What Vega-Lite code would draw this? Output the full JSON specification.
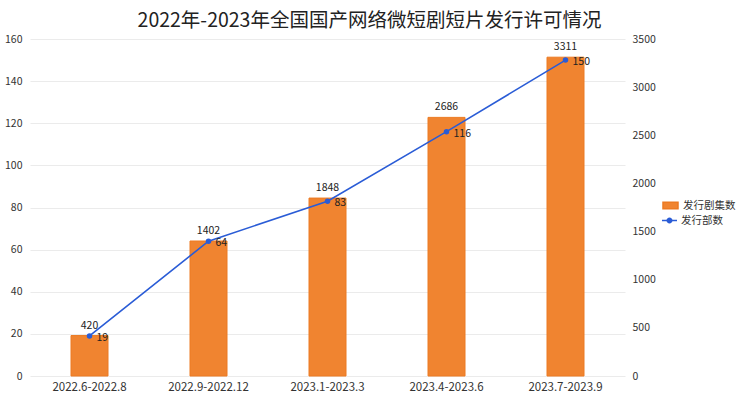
{
  "$schema": "https://vega.github.io/schema/vega-lite/v6.json",
  "width": 595,
  "height": 337,
  "autosize": {"type": "none"},
  "padding": {"left": 30, "top": 39, "right": 115, "bottom": 26},
  "background": "white",
  "title": {
    "text": "2022年-2023年全国国产网络微短剧短片发行许可情况",
    "font": "Noto Sans CJK SC",
    "fontSize": 19.5,
    "fontWeight": "normal",
    "color": "#222222",
    "anchor": "middle",
    "dx": 42,
    "offset": 3
  },
  "config": {
    "font": "Noto Sans CJK SC",
    "view": {"stroke": null},
    "axis": {"labelFont": "Noto Sans CJK SC", "labelColor": "#333333"},
    "legend": {"labelFont": "Noto Sans CJK SC", "labelColor": "#333333"}
  },
  "data": {
    "values": [
      {"period": "2022.6-2022.8", "episodes": 420, "titles": 19},
      {"period": "2022.9-2022.12", "episodes": 1402, "titles": 64},
      {"period": "2023.1-2023.3", "episodes": 1848, "titles": 83},
      {"period": "2023.4-2023.6", "episodes": 2686, "titles": 116},
      {"period": "2023.7-2023.9", "episodes": 3311, "titles": 150}
    ]
  },
  "encoding": {
    "x": {
      "field": "period",
      "type": "nominal",
      "sort": null,
      "scale": {"paddingInner": 0, "paddingOuter": 0},
      "axis": {
        "title": null,
        "labelAngle": 0,
        "domain": false,
        "ticks": false,
        "labelPadding": 5,
        "labelFontSize": 11.5
      }
    }
  },
  "layer": [
    {
      "encoding": {
        "y": {
          "field": "episodes",
          "type": "quantitative",
          "scale": {"domain": [0, 3500], "nice": false},
          "axis": {
            "orient": "right",
            "title": null,
            "grid": false,
            "domain": false,
            "ticks": false,
            "labelPadding": 7,
            "labelFontSize": 10.5,
            "format": "d",
            "values": [0, 500, 1000, 1500, 2000, 2500, 3000, 3500]
          }
        }
      },
      "layer": [
        {
          "mark": {"type": "bar", "size": 37, "stroke": "#EC7A22", "strokeWidth": 1},
          "encoding": {
            "fill": {
              "datum": "发行剧集数",
              "scale": {"range": ["#F08430"]},
              "legend": {
                "orient": "none",
                "legendX": 632,
                "legendY": 158,
                "title": null,
                "symbolType": "M-1,-0.42H1V0.42H-1Z",
                "symbolSize": 225,
                "labelFontSize": 10.5,
                "encode": {"symbols": {"update": {"fill": {"value": "#F08430"}, "strokeWidth": {"value": 0}}}}
              }
            }
          }
        },
        {
          "mark": {"type": "text", "baseline": "bottom", "dy": -5, "fontSize": 10.5, "color": "#222222"},
          "encoding": {"text": {"field": "episodes", "type": "quantitative"}}
        }
      ]
    },
    {
      "encoding": {
        "y": {
          "field": "titles",
          "type": "quantitative",
          "scale": {"domain": [0, 160], "nice": false},
          "axis": {
            "orient": "left",
            "title": null,
            "grid": true,
            "gridColor": "#EBEBEB",
            "gridWidth": 1,
            "domain": false,
            "ticks": false,
            "labelPadding": 8,
            "labelFontSize": 10.5,
            "values": [0, 20, 40, 60, 80, 100, 120, 140, 160]
          }
        }
      },
      "layer": [
        {
          "mark": {"type": "line", "strokeWidth": 1.6},
          "encoding": {
            "stroke": {
              "datum": "发行部数",
              "scale": {"range": ["#2A5CD6"]},
              "legend": {
                "orient": "none",
                "legendX": 632,
                "legendY": 174,
                "title": null,
                "symbolType": "M-1,-0.1H1V0.1H-1Z M-0.4,0A0.4,0.4 0 1,1 0.4,0A0.4,0.4 0 1,1 -0.4,0",
                "symbolSize": 225,
                "labelFontSize": 10.5,
                "encode": {"symbols": {"update": {"fill": {"value": "#2A5CD6"}, "strokeWidth": {"value": 0}}}}
              }
            }
          }
        },
        {
          "mark": {"type": "point", "filled": true, "size": 30, "color": "#2A5CD6", "opacity": 1},
          "encoding": {}
        },
        {
          "mark": {"type": "text", "align": "left", "baseline": "middle", "dx": 7, "dy": 2, "fontSize": 10.5, "color": "#222222"},
          "encoding": {"text": {"field": "titles", "type": "quantitative"}}
        }
      ]
    }
  ],
  "resolve": {"scale": {"y": "independent"}}
}
